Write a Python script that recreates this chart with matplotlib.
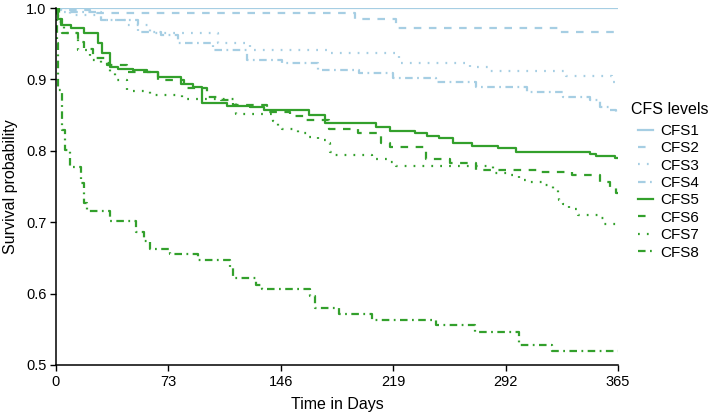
import matplotlib
matplotlib.use("Agg")
import matplotlib.pyplot as plt

plt.rcParams['font.family'] = ['Liberation Sans', 'DejaVu Sans']

# Kaplan-Meier estimates (days, survival)
cfs1_t = [0, 365]
cfs1_s = [1.0, 1.0]

cfs2_t = [0, 3, 22, 194, 221, 327, 365]
cfs2_s = [1.0, 0.997, 0.993, 0.985, 0.972, 0.967, 0.967]

cfs3_t = [0, 9, 29, 46, 61, 105, 126, 178, 223, 269, 282, 331, 361, 365]
cfs3_s = [1.0, 0.990, 0.983, 0.976, 0.965, 0.951, 0.941, 0.937, 0.923, 0.917, 0.912, 0.905, 0.897, 0.897]

cfs4_t = [0, 3, 29, 53, 68, 79, 102, 124, 147, 170, 197, 219, 247, 273, 306, 329, 347, 353, 360, 364, 365]
cfs4_s = [1.0, 0.994, 0.983, 0.966, 0.962, 0.951, 0.941, 0.927, 0.923, 0.913, 0.909, 0.902, 0.897,
          0.890, 0.883, 0.876, 0.871, 0.862, 0.857, 0.852, 0.852]

cfs5_t = [0, 1, 3, 10, 18, 27, 30, 35, 40, 50, 59, 66, 81, 89, 95, 111, 126, 135, 164, 175,
          208, 217, 233, 241, 249, 258, 270, 287, 299, 347, 351, 363, 365]
cfs5_s = [1.0, 0.985, 0.976, 0.972, 0.965, 0.951, 0.937, 0.918, 0.914, 0.913, 0.910, 0.903, 0.894,
          0.890, 0.867, 0.863, 0.861, 0.857, 0.850, 0.839, 0.833, 0.828, 0.825, 0.821, 0.818,
          0.811, 0.807, 0.804, 0.799, 0.796, 0.793, 0.790, 0.790]

cfs6_t = [0, 2, 4, 14, 18, 24, 33, 46, 66, 83, 98, 107, 115, 137, 152, 161, 177, 196, 211, 217,
          240, 256, 273, 314, 335, 353, 360, 364, 365]
cfs6_s = [1.0, 0.985, 0.965, 0.953, 0.942, 0.930, 0.920, 0.910, 0.899, 0.888, 0.875, 0.871, 0.864,
          0.854, 0.849, 0.843, 0.831, 0.825, 0.811, 0.805, 0.789, 0.783, 0.773, 0.771, 0.766,
          0.757, 0.748, 0.741, 0.741]

cfs7_t = [0, 1, 5, 14, 22, 29, 35, 38, 46, 61, 82, 117, 141, 144, 147, 157, 163, 170, 176, 178,
          180, 205, 215, 221, 284, 295, 301, 306, 316, 323, 326, 327, 329, 333, 339, 354, 356, 364, 365]
cfs7_s = [1.0, 0.980, 0.965, 0.941, 0.927, 0.923, 0.909, 0.899, 0.884, 0.878, 0.873, 0.852, 0.842,
          0.834, 0.831, 0.825, 0.820, 0.815, 0.811, 0.798, 0.794, 0.789, 0.785, 0.779, 0.769,
          0.766, 0.759, 0.757, 0.752, 0.747, 0.741, 0.731, 0.726, 0.719, 0.710, 0.706, 0.698,
          0.692, 0.692]

cfs8_t = [0, 0.5, 1.5, 4, 6, 9, 16, 18, 20, 35, 52, 57, 61, 74, 92, 113, 115, 130, 134, 165,
          168, 184, 205, 247, 272, 301, 322, 365]
cfs8_s = [1.0, 0.951, 0.885, 0.829, 0.801, 0.778, 0.755, 0.727, 0.715, 0.701, 0.686, 0.673, 0.662,
          0.655, 0.647, 0.636, 0.622, 0.612, 0.607, 0.597, 0.580, 0.571, 0.563, 0.556, 0.546,
          0.528, 0.519, 0.519]

labels = ['CFS1', 'CFS2', 'CFS3', 'CFS4', 'CFS5', 'CFS6', 'CFS7', 'CFS8']
times = [cfs1_t, cfs2_t, cfs3_t, cfs4_t, cfs5_t, cfs6_t, cfs7_t, cfs8_t]
survs = [cfs1_s, cfs2_s, cfs3_s, cfs4_s, cfs5_s, cfs6_s, cfs7_s, cfs8_s]

blue = '#a6cee3'
green = '#33a02c'
colors = [blue] * 4 + [green] * 4
styles = ['-', (0, (3.4, 3.4)), (0, (0.8, 3.2)), (0, (3.4, 2.0, 0.8, 2.0))] * 2

fig = plt.figure(figsize=(7.09, 4.16), dpi=100)
ax = fig.add_axes([56 / 709, 1 - 365 / 416, (618 - 56) / 709, (365 - 8) / 416])

for t, s, lab, c, ls in zip(times, survs, labels, colors, styles):
    ax.step(t, s, where='post', color=c, linestyle=ls, lw=1.6, label=lab)

ax.set_xlim(0, 365)
ax.set_ylim(0.5, 1.0)
ax.set_xticks([0, 73, 146, 219, 292, 365])
ax.set_yticks([0.5, 0.6, 0.7, 0.8, 0.9, 1.0])
ax.set_yticklabels(['0.5', '0.6', '0.7', '0.8', '0.9', '1.0'])
ax.tick_params(labelsize=10.5, length=4, width=1, colors='black', pad=3)
for sp in ['top', 'right']:
    ax.spines[sp].set_visible(False)
for sp in ['left', 'bottom']:
    ax.spines[sp].set_linewidth(1.1)

ax.set_xlabel('Time in Days', fontsize=11.5, labelpad=6)
ax.set_ylabel('Survival probability', fontsize=11.5, labelpad=6)

# legend keys, title drawn separately (sits left of the keys)
fig.text(631 / 709, 1 - 109 / 416, 'CFS levels', fontsize=11.5, ha='left', va='center')
leg = fig.legend(loc='upper left', bbox_to_anchor=(638 / 709, 1 - 124 / 416), frameon=False,
                 fontsize=11, handlelength=1.0, handletextpad=0.45, labelspacing=0.22,
                 borderaxespad=0, borderpad=0)

fig.savefig('out.png', dpi=100)
